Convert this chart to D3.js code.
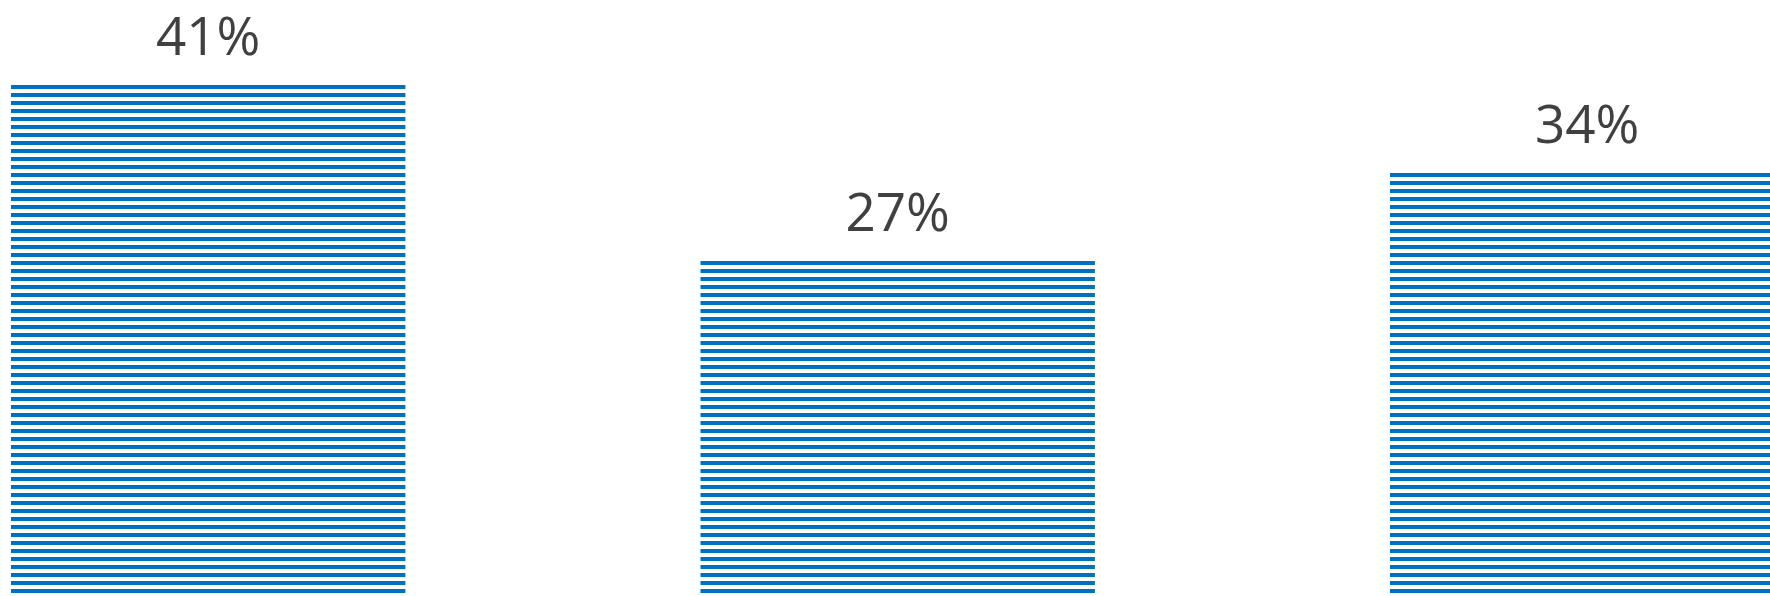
<!DOCTYPE html>
<html>
<head>
<meta charset="utf-8">
<script src="https://cdn.jsdelivr.net/npm/d3@7"></script>
<style>
  body { margin: 0; background: #fff; }
  svg { display: block; }
</style>
</head>
<body>
<div class="chart"></div>
<script>
const WIDTH = 1770;
const HEIGHT = 596;
const BAR_COLOR = '#0070C0';
const TEXT_COLOR = '#404040';

// values
const categories = ['A', 'B', 'C'];
const values = [41, 27, 34];

const svg = d3.select('.chart')
  .append('svg')
  .attr('width', WIDTH)
  .attr('height', HEIGHT);

// horizontal stripe fill
const pattern = svg.append('defs')
  .append('pattern')
  .attr('id', 'stripes')
  .attr('patternUnits', 'userSpaceOnUse')
  .attr('x', 0)
  .attr('y', 5)
  .attr('width', 8)
  .attr('height', 8);
pattern.append('rect')
  .attr('x', 0)
  .attr('y', 0)
  .attr('width', 8)
  .attr('height', 4)
  .attr('fill', BAR_COLOR);

const xScale = d3.scaleBand()
  .domain(categories)
  .range([11, 1784.4])
  .paddingInner(0.428)
  .paddingOuter(0);

const yScale = d3.scaleLinear()
  .domain([0, 41])
  .range([600, 85]);

const data = categories.map((c, i) => ({ cat: c, value: values[i] }));

svg.selectAll('rect.bar')
  .data(data)
  .enter()
  .append('rect')
  .attr('class', 'bar')
  .attr('x', d => xScale(d.cat))
  .attr('y', d => yScale(d.value))
  .attr('width', xScale.bandwidth())
  .attr('height', d => yScale(0) - yScale(d.value))
  .attr('fill', 'url(#stripes)');

svg.selectAll('text.label')
  .data(data)
  .enter()
  .append('text')
  .attr('class', 'label')
  .attr('x', d => xScale(d.cat) + xScale.bandwidth() / 2)
  .attr('y', d => yScale(d.value) - 30)
  .attr('text-anchor', 'middle')
  .attr('font-family', "'Open Sans', sans-serif")
  .attr('font-size', 53)
  .attr('fill', TEXT_COLOR)
  .text(d => d.value + '%');
</script>
</body>
</html>
